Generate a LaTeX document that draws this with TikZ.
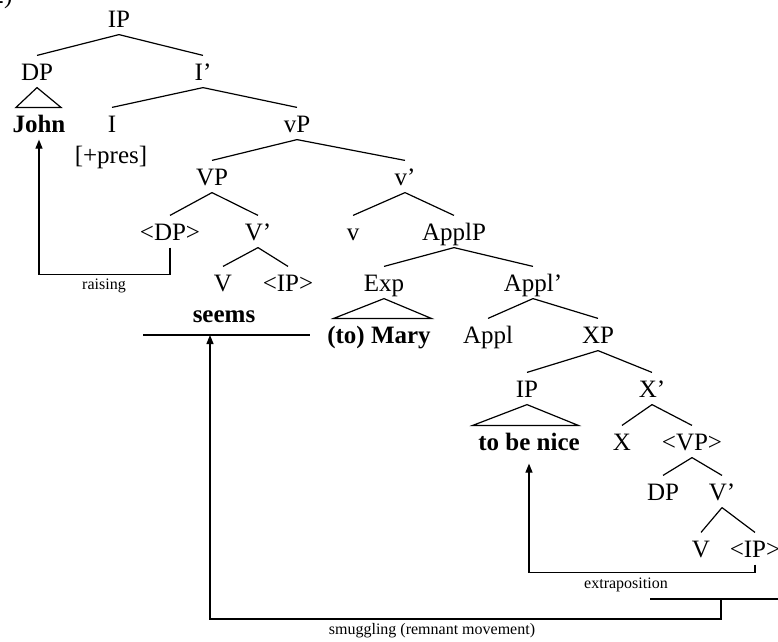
\documentclass[tikz,border=0pt]{standalone}
\usepackage{fontspec}
\setmainfont{Liberation Serif}
\usetikzlibrary{arrows.meta}

\begin{document}
\begin{tikzpicture}[
    x=1pt, y=-1pt,
    line width=1.2pt,
    tnode/.style={anchor=base, inner xsep=0pt, inner ysep=7pt, text height=17pt, text depth=0pt, font=\fontsize{25}{30}\selectfont},
    lbl/.style={anchor=base, inner sep=0pt, font=\fontsize{16}{19}\selectfont},
    >={Triangle[length=9pt, width=7pt]}
  ]
    \useasboundingbox (0,0) rectangle (778,641);
    \node[tnode, anchor=base east] (exnum) at (13,3) {2)};

    \node[tnode] (ip) at (119,27) {IP};
    \node[tnode] (dp) at (37,80) {DP};
    \node[tnode] (ibar) at (203,80) {I’};
    \node[tnode, font=\fontsize{25}{30}\selectfont\bfseries] (john) at (39,132) {John};
    \node[tnode] (ihead) at (112,132) {I};
    \node[tnode] (pres) at (111,163) {[+pres]};
    \node[tnode] (littlevp) at (297,132) {vP};
    \node[tnode] (vp) at (212,185) {VP};
    \node[tnode] (littlevbar) at (405,185) {v’};
    \node[tnode] (dptrace) at (170,240) {<DP>};
    \node[tnode] (vbar) at (258,240) {V’};
    \node[tnode] (littlev) at (353,240) {v};
    \node[tnode] (applp) at (454,240) {ApplP};
    \node[tnode] (vhead) at (223,291) {V};
    \node[tnode] (iptrace) at (288,291) {<IP>};
    \node[tnode] (exp) at (384,291) {Exp};
    \node[tnode] (applbar) at (533,291) {Appl’};
    \node[tnode, font=\fontsize{25}{30}\selectfont\bfseries] (seems) at (224,322) {seems};
    \node[tnode, font=\fontsize{25}{30}\selectfont\bfseries] (mary) at (379,343) {(to) Mary};
    \node[tnode] (appl) at (488,343) {Appl};
    \node[tnode] (xp) at (598,343) {XP};
    \node[tnode] (iplow) at (527,397) {IP};
    \node[tnode] (xbar) at (652,397) {X’};
    \node[tnode, font=\fontsize{25}{30}\selectfont\bfseries] (nice) at (529,450) {to be nice};
    \node[tnode] (xhead) at (622,450) {X};
    \node[tnode] (vptrace) at (692,450) {<VP>};
    \node[tnode] (dplow) at (663,500) {DP};
    \node[tnode] (vbarlow) at (722,500) {V’};
    \node[tnode] (vlow) at (701,557) {V};
    \node[tnode] (iptracelow) at (755,557) {<IP>};

    % branches
    \draw (ip.south) -- (dp.north);
    \draw (ip.south) -- (ibar.north);
    \draw (ibar.south) -- (ihead.north);
    \draw (ibar.south) -- (littlevp.north);
    \draw (littlevp.south) -- (vp.north);
    \draw (littlevp.south) -- (littlevbar.north);
    \draw (vp.south) -- (dptrace.north);
    \draw (vp.south) -- (vbar.north);
    \draw (vbar.south) -- (vhead.north);
    \draw (vbar.south) -- (iptrace.north);
    \draw (littlevbar.south) -- (littlev.north);
    \draw (littlevbar.south) -- (applp.north);
    \draw (applp.south) -- (exp.north);
    \draw (applp.south) -- (applbar.north);
    \draw (applbar.south) -- (appl.north);
    \draw (applbar.south) -- (xp.north);
    \draw (xp.south) -- (iplow.north);
    \draw (xp.south) -- (xbar.north);
    \draw (xbar.south) -- (xhead.north);
    \draw (xbar.south) -- (vptrace.north);
    \draw (vptrace.south) -- (dplow.north);
    \draw (vptrace.south) -- (vbarlow.north);
    \draw (vbarlow.south) -- (vlow.north);
    \draw (vbarlow.south) -- (iptracelow.north);

    % triangles
    \draw (dp.south) -- ([xshift=4pt]john.north west) -- ([xshift=-5pt]john.north east) -- cycle;
    \draw (exp.south) -- ([xshift=7pt]mary.north west) -- (mary.north east) -- cycle;
    \draw (iplow.south) -- ([xshift=-5pt]nice.north west) -- ([xshift=-2pt]nice.north east) -- cycle;

    % movement
    \coordinate (seemsL) at (143,335);
    \coordinate (seemsR) at (310,335);
    \coordinate (seemsM) at (210,335);
    \coordinate (remL) at (650,599);
    \coordinate (remR) at (780,599);
    \coordinate (remM) at (721,599);
    \draw (seemsL) -- (seemsR);
    \draw (remL) -- (remR);

    \draw[->] (dptrace.south) -- ++(0,27) -| (john.south);
    \node[lbl] (raising) at (104,289) {raising};

    \draw[->, shorten >=6pt] (iptracelow.south) -- ++(0,8) -| (nice.south);
    \node[lbl] (extrapos) at (626,588) {extraposition};

    \draw[->] (remM) -- ++(0,20) -| (seemsM);
    \node[lbl] (smuggling) at (432,634) {smuggling (remnant movement)};
  \end{tikzpicture}
\end{document}
